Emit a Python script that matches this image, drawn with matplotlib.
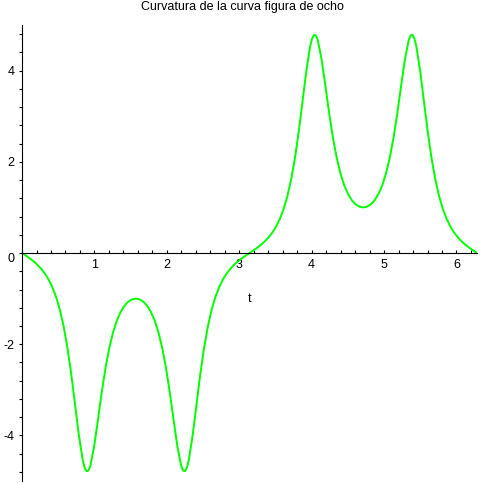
import matplotlib
matplotlib.use('Agg')
import matplotlib.pyplot as plt
from matplotlib.ticker import MultipleLocator

plt.rcParams['font.family'] = ['Liberation Sans', 'DejaVu Sans']
plt.rcParams['axes.unicode_minus'] = False

# curvature values (t in radians), denser near the peaks
t = [0.0000, 0.0524, 0.1047, 0.1571, 0.2094, 0.2618, 0.3142, 0.3665, 0.4189, 0.4712,
     0.5236, 0.5760, 0.6283, 0.6807, 0.7330, 0.7854, 0.8378, 0.8639, 0.8901, 0.9163,
     0.9425, 0.9948,
     1.0472, 1.0996, 1.1519, 1.2043, 1.2566, 1.3090, 1.3614, 1.4137, 1.4661, 1.5184,
     1.5708, 1.6232, 1.6755, 1.7279, 1.7802, 1.8326, 1.8850, 1.9373, 1.9897, 2.0420,
     2.0944, 2.1468, 2.1991, 2.2253, 2.2515, 2.2777, 2.3038, 2.3562, 2.4086, 2.4609,
     2.5133, 2.5656,
     2.6180, 2.6704, 2.7227, 2.7751, 2.8274, 2.8798, 2.9322, 2.9845, 3.0369, 3.0892,
     3.1416, 3.1940, 3.2463, 3.2987, 3.3510, 3.4034, 3.4558, 3.5081, 3.5605, 3.6128,
     3.6652, 3.7176, 3.7699, 3.8223, 3.8746, 3.9270, 3.9794, 4.0055, 4.0317, 4.0579,
     4.0841, 4.1364,
     4.1888, 4.2412, 4.2935, 4.3459, 4.3982, 4.4506, 4.5030, 4.5553, 4.6077, 4.6600,
     4.7124, 4.7648, 4.8171, 4.8695, 4.9218, 4.9742, 5.0265, 5.0789, 5.1313, 5.1836,
     5.2360, 5.2883, 5.3407, 5.3669, 5.3931, 5.4193, 5.4454, 5.4978, 5.5501, 5.6025,
     5.6549, 5.7072,
     5.7596, 5.8119, 5.8643, 5.9167, 5.9690, 6.0214, 6.0737, 6.1261, 6.1785, 6.2308,
     6.2832]

kappa = [0.0, -0.056, -0.115, -0.179, -0.253, -0.340, -0.446, -0.579, -0.748, -0.966,
         -1.250, -1.619, -2.090, -2.669, -3.332, -4.000, -4.535, -4.703, -4.784, -4.772,
         -4.672, -4.254,
         -3.674, -3.071, -2.532, -2.089, -1.744, -1.483, -1.292, -1.157, -1.068, -1.017,
         -1.000, -1.017, -1.068, -1.157, -1.292, -1.483, -1.744, -2.089, -2.532, -3.071,
         -3.674, -4.254, -4.672, -4.772, -4.784, -4.703, -4.535, -4.000, -3.332, -2.669,
         -2.090, -1.619,
         -1.250, -0.966, -0.748, -0.579, -0.446, -0.340, -0.253, -0.179, -0.115, -0.056,
         0.0, 0.056, 0.115, 0.179, 0.253, 0.340, 0.446, 0.579, 0.748, 0.966,
         1.250, 1.619, 2.090, 2.669, 3.332, 4.000, 4.535, 4.703, 4.784, 4.772,
         4.672, 4.254,
         3.674, 3.071, 2.532, 2.089, 1.744, 1.483, 1.292, 1.157, 1.068, 1.017,
         1.000, 1.017, 1.068, 1.157, 1.292, 1.483, 1.744, 2.089, 2.532, 3.071,
         3.674, 4.254, 4.672, 4.772, 4.784, 4.703, 4.535, 4.000, 3.332, 2.669,
         2.090, 1.619,
         1.250, 0.966, 0.748, 0.579, 0.446, 0.340, 0.253, 0.179, 0.115, 0.056,
         0.0]

xticks = [1, 2, 3, 4, 5, 6]
yticks = [-4, -2, 0, 2, 4]

fig = plt.figure(figsize=(4.84, 4.84), dpi=100)
ax = fig.add_axes([0.0455, 0.0062, 0.94, 0.942])

ax.plot(t, kappa, color='#00ff00', lw=1.4)

ax.set_xlim(0, 6.2832)
ax.set_ylim(-5, 5)

ax.spines['top'].set_visible(False)
ax.spines['right'].set_visible(False)
ax.spines['bottom'].set_position(('data', 0))
for s in ('left', 'bottom'):
    ax.spines[s].set_linewidth(0.8)

ax.set_xticks(xticks)
ax.set_yticks(yticks)
ax.xaxis.set_minor_locator(MultipleLocator(0.2))
ax.yaxis.set_minor_locator(MultipleLocator(0.4))
ax.tick_params(axis='x', which='both', direction='in', length=2.5, width=0.8,
               labelsize=9, pad=4)
ax.tick_params(axis='y', which='both', direction='out', length=2.5, width=0.8,
               labelsize=9, pad=3)

# Maple nudges the "0" label a little below the x axis
for lab in ax.get_yticklabels():
    if lab.get_text() == '0':
        lab.set_va('top')
        lab.set_y(-0.05)

ax.set_xlabel('t', fontsize=9)
ax.xaxis.set_label_coords(0.5, 0.412)

fig.suptitle('Curvatura de la curva figura de ocho', fontsize=9, x=0.5, y=0.997,
             va='top')

fig.savefig('out.png', dpi=100)
